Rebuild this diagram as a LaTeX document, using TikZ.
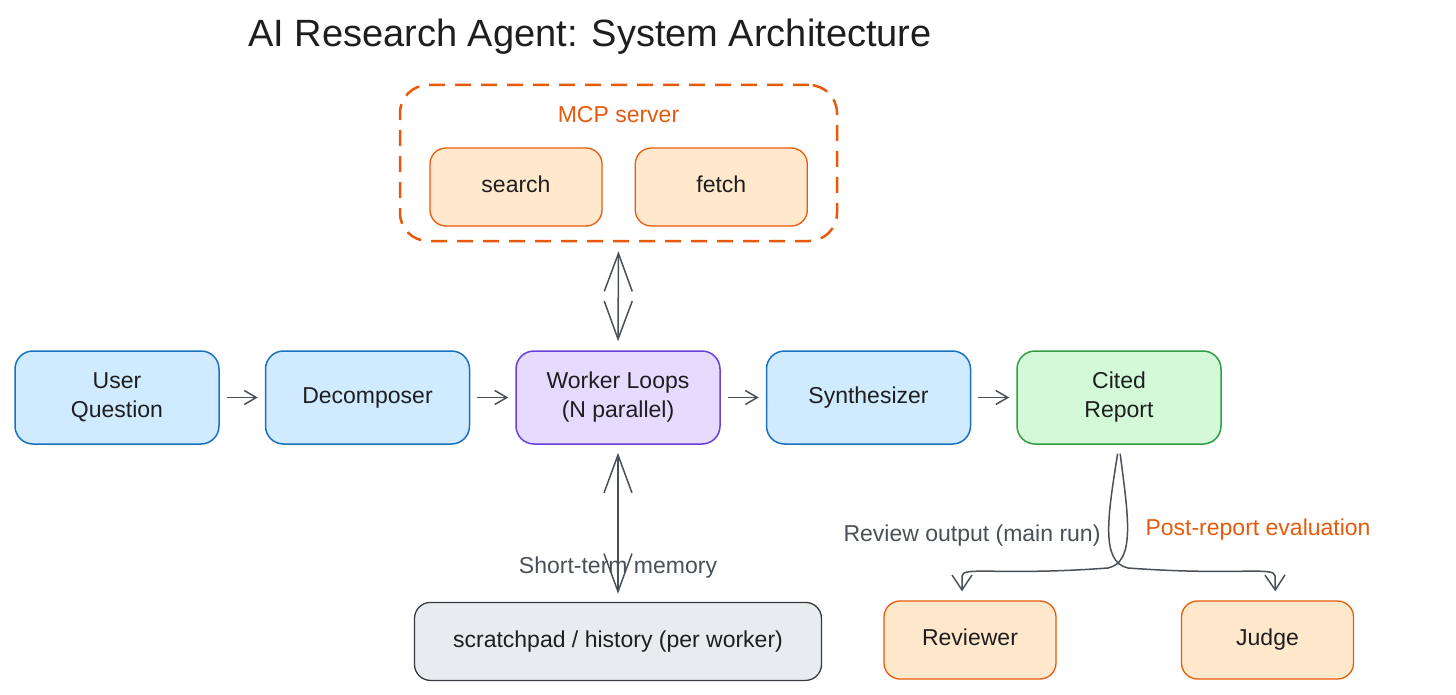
\documentclass[tikz,border=0pt]{standalone}
\usepackage{fontspec}
\setmainfont{Liberation Sans}
\usepackage{xcolor}
\usepackage{tikz}
\usetikzlibrary{arrows.meta,positioning}

\definecolor{inkc}{HTML}{1E1E1E}
\definecolor{arrc}{HTML}{495057}
\definecolor{bluefill}{HTML}{D0EBFF}
\definecolor{blueline}{HTML}{1971C2}
\definecolor{purpfill}{HTML}{E5DBFF}
\definecolor{purpline}{HTML}{6741D9}
\definecolor{greenfill}{HTML}{D3F9D8}
\definecolor{greenline}{HTML}{2F9E44}
\definecolor{orfill}{HTML}{FFE8CC}
\definecolor{orline}{HTML}{E8590C}
\definecolor{grayfill}{HTML}{E9ECEF}
\definecolor{grayline}{HTML}{343A40}

\begin{document}
\begin{tikzpicture}[
  x=1pt,y=-1pt,
  font=\fontsize{23}{29}\selectfont,
  text=inkc,
  node distance=45pt,
  card/.style={rectangle,rounded corners=18pt,draw,line width=1.5pt,align=center,
               minimum height=93pt,minimum width=204pt,inner sep=0pt},
  bluebox/.style={card,fill=bluefill,draw=blueline},
  workbox/.style={card,fill=purpfill,draw=purpline},
  greenbox/.style={card,fill=greenfill,draw=greenline},
  toolbox/.style={rectangle,rounded corners=16pt,draw=orline,fill=orfill,line width=1.3pt,
                  align=center,minimum height=78pt,minimum width=172pt,inner sep=0pt,
                  text height=16pt,text depth=5pt},
  memobox/.style={rectangle,rounded corners=16pt,draw=grayline,fill=grayfill,line width=1.3pt,
                  align=center,minimum height=78pt,minimum width=407pt,inner sep=0pt},
  mcpframe/.style={rectangle,rounded corners=28pt,draw=orline,line width=2.5pt,
                   dash pattern=on 16pt off 10pt,minimum width=437pt,minimum height=156pt},
  arr/.style={-{Straight Barb[length=12pt,width=14pt,line width=1.5pt]},line width=1.5pt,draw=arrc},
  curvarr/.style={-{Straight Barb[length=15pt,width=20pt,line width=1.5pt]},line width=1.5pt,draw=arrc},
  bigarr/.style={{Straight Barb[length=38pt,width=28pt,line width=1.5pt]}-{Straight Barb[length=38pt,width=28pt,line width=1.5pt]},
                 line width=1.5pt,draw=arrc},
  note/.style={text=arrc},
  hot/.style={text=orline}
]
\useasboundingbox (0,0) rectangle (1456,695);
% title
\node[font=\fontsize{38}{44}\selectfont] (title) at (590,37) {AI Research Agent: System Architecture};
% main pipeline
\node[bluebox] (user) at (117,397.5) {User\\Question};
\node[bluebox,right=of user] (dec) {Decomposer};
\node[workbox,right=of dec] (work) {Worker Loops\\(N parallel)};
\node[bluebox,right=of work] (syn) {Synthesizer};
\node[greenbox,right=of syn] (rep) {Cited\\Report};
\draw[arr,shorten <=7pt,shorten >=7pt] (user)--(dec);
\draw[arr,shorten <=7pt,shorten >=7pt] (dec)--(work);
\draw[arr,shorten <=7pt,shorten >=7pt] (work)--(syn);
\draw[arr,shorten <=7pt,shorten >=7pt] (syn)--(rep);
% MCP server
\node[mcpframe] (mcp) at (618.5,163) {};
\node[hot,below=19pt of mcp.north] (mcplbl) {MCP server};
\node[toolbox] (search) at (516,187) {search};
\node[toolbox,right=32pt of search] (fetch) {fetch};
\draw[bigarr,shorten <=9pt,shorten >=9pt] (mcp.south)--(work.north);
% memory
\node[memobox,below=157pt of work] (memo) {scratchpad / history (per worker)};
\draw[bigarr,shorten <=8pt,shorten >=8pt] (work.south)--(memo.north)
  node[note,pos=0.78] (memlbl) {Short-term memory};
% evaluation
\node[toolbox] (rev) at (970,640) {Reviewer};
\node[toolbox] (judge) at (1267.5,640) {Judge};
\draw[curvarr,shorten <=9pt,shorten >=9pt] (rep.south) .. controls (1128,515) and (1136,562) .. (1108,568)
  .. controls (1000,576) and (962,566) .. (962,576) -- ([xshift=-8pt]rev.north);
\draw[curvarr,shorten <=9pt,shorten >=9pt] (rep.south) .. controls (1108,515) and (1100,562) .. (1128,568)
  .. controls (1236,576) and (1275,566) .. (1275,576) -- ([xshift=8pt]judge.north);
\node[note,anchor=east] (revlbl) at (1104,536) {Review output (main run)};
\node[hot,anchor=west] (evallbl) at (1142,530) {Post-report evaluation};
\end{tikzpicture}
\end{document}
